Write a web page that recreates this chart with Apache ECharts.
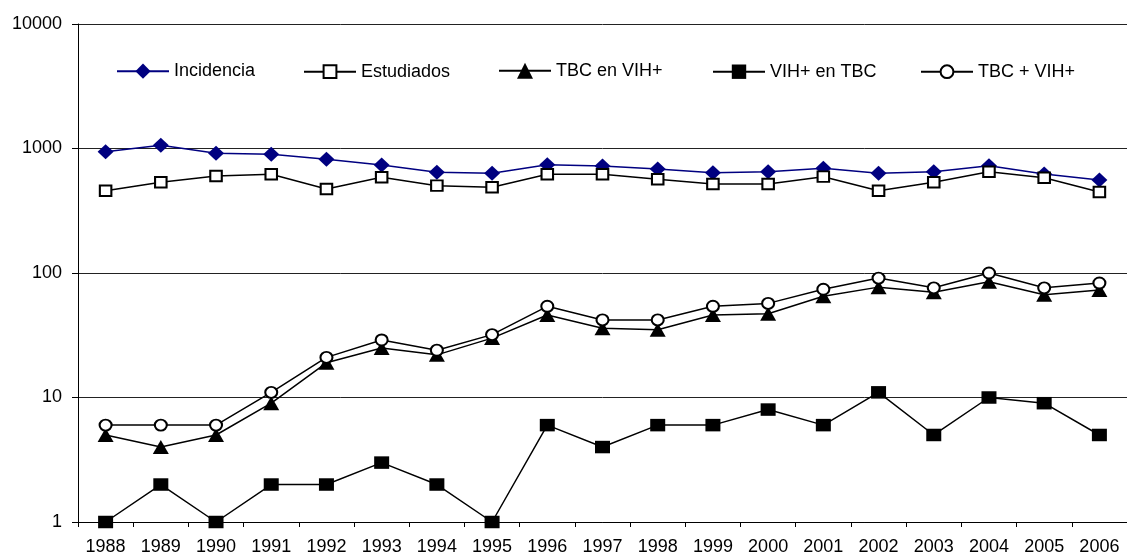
<!DOCTYPE html>
<html>
<head>
<meta charset="utf-8">
<script src="https://cdn.jsdelivr.net/npm/echarts@6/dist/echarts.min.js"></script>
<style>
  html, body { margin: 0; padding: 0; background: #fff; }
  #chart { width: 1127px; height: 552px; }
</style>
</head>
<body>
<div id="chart"></div>
<script>
const years = ['1988','1989','1990','1991','1992','1993','1994','1995','1996','1997','1998','1999','2000','2001','2002','2003','2004','2005','2006'];
const incidencia = [942, 1060, 915, 898, 819, 737, 644, 632, 740, 725, 684, 640, 651, 693, 632, 651, 728, 624, 558];
const estudiados = [458, 535, 601, 621, 473, 587, 503, 488, 621, 621, 566, 519, 519, 594, 458, 535, 651, 583, 447];
const tbcEnVih = [5, 4, 5, 9, 19, 25, 22, 30, 46, 36, 35, 46, 47, 65, 77, 70, 85, 67, 73];
const vihEnTbc = [1, 2, 1, 2, 2, 3, 2, 1, 6, 4, 6, 6, 8, 6, 11, 5, 10, 9, 5];
const tbcMasVih = [6, 6, 6, 11, 21, 29, 24, 32, 54, 42, 42, 54, 57, 74, 91, 76, 100, 76, 83];
const seriesNames = ['Incidencia', 'Estudiados', 'TBC en VIH+', 'VIH+ en TBC', 'TBC + VIH+'];
const yTicks = [1, 10, 100, 1000, 10000];

const FONT = '"Liberation Sans", Arial, sans-serif';
const FS = 18;

const chart = echarts.init(document.getElementById('chart'), null, { renderer: 'canvas' });

function legendFor(name, left, itemHeight) {
  return {
    data: [name],
    left: left,
    top: 71.7 - Math.max(itemHeight, FS) / 2,
    itemWidth: 52,
    itemHeight: itemHeight,
    itemGap: 0,
    padding: 0,
    selectedMode: false,
    textStyle: { fontFamily: FONT, fontSize: FS, color: '#000' }
  };
}

const option = {
  animation: false,
  backgroundColor: '#fff',
  grid: { left: 78, right: 0, top: 24, bottom: 30, containLabel: false, outerBoundsMode: 'none' },
  legend: [
    legendFor(seriesNames[0], 116, 19),
    legendFor(seriesNames[1], 303, 16),
    legendFor(seriesNames[2], 498, 20),
    legendFor(seriesNames[3], 712, 18),
    legendFor(seriesNames[4], 920, 16)
  ],
  xAxis: {
    type: 'category',
    data: years,
    boundaryGap: true,
    axisLine: { show: true, lineStyle: { color: '#000', width: 1 } },
    axisTick: { show: true, length: 5, inside: false, alignWithLabel: false, lineStyle: { color: '#000' } },
    axisLabel: { fontFamily: FONT, fontSize: FS, color: '#000', margin: 16, interval: 0 },
    splitLine: { show: false }
  },
  yAxis: {
    type: 'log',
    logBase: 10,
    min: yTicks[0],
    max: yTicks[yTicks.length - 1],
    axisLine: { show: true, lineStyle: { color: '#000', width: 1 } },
    axisTick: { show: true, length: 6, lineStyle: { color: '#000' } },
    axisLabel: {
      fontFamily: FONT, fontSize: FS, color: '#000', margin: 16,
      formatter: function (v) { return String(Math.round(v)); }
    },
    splitLine: { show: true, lineStyle: { color: '#222', width: 1 } },
    minorTick: { show: false }
  },
  series: [
    {
      name: seriesNames[0], type: 'line', data: incidencia,
      symbol: 'diamond', symbolSize: [16, 15],
      lineStyle: { color: '#000080', width: 1.5 },
      itemStyle: { color: '#000080', borderWidth: 0 },
      z: 2
    },
    {
      name: seriesNames[1], type: 'line', data: estudiados,
      symbol: 'rect', symbolSize: [11.5, 10.5],
      lineStyle: { color: '#000', width: 1.5 },
      itemStyle: { color: '#fff', borderColor: '#000', borderWidth: 2 },
      z: 3
    },
    {
      name: seriesNames[2], type: 'line', data: tbcEnVih,
      symbol: 'triangle', symbolSize: [16, 14],
      lineStyle: { color: '#000', width: 1.5 },
      itemStyle: { color: '#000', borderWidth: 0 },
      z: 4
    },
    {
      name: seriesNames[3], type: 'line', data: vihEnTbc,
      symbol: 'rect', symbolSize: [15, 12.5],
      lineStyle: { color: '#000', width: 1.5 },
      itemStyle: { color: '#000', borderWidth: 0 },
      z: 5
    },
    {
      name: seriesNames[4], type: 'line', data: tbcMasVih,
      symbol: 'circle', symbolSize: [12, 11],
      lineStyle: { color: '#000', width: 1.5 },
      itemStyle: { color: '#fff', borderColor: '#000', borderWidth: 2 },
      z: 6
    }
  ]
};

chart.setOption(option);
</script>
</body>
</html>
